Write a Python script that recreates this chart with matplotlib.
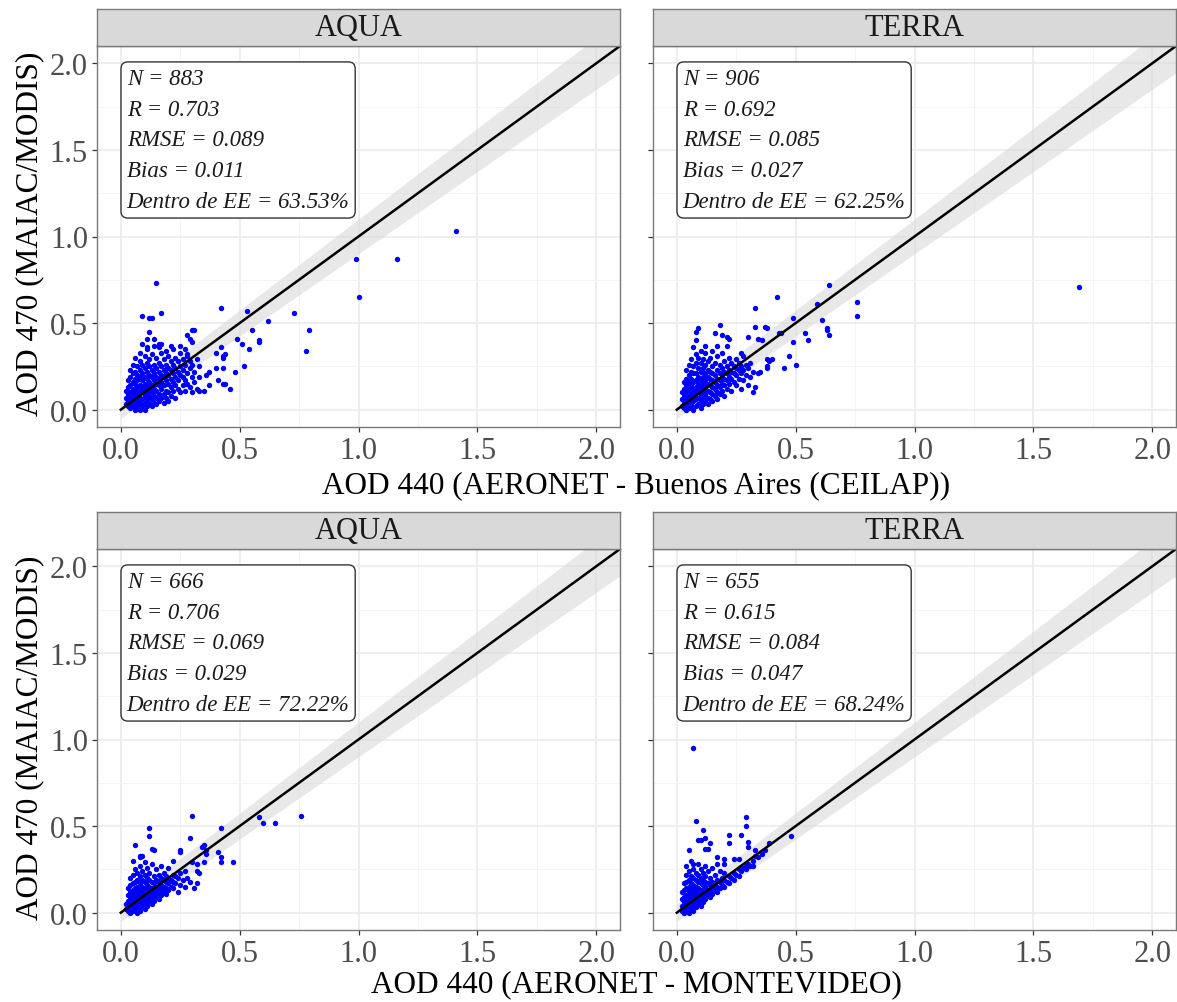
import matplotlib
matplotlib.use("Agg")
import matplotlib.pyplot as plt
import numpy as np

plt.rcParams['font.family'] = ['Liberation Serif', 'DejaVu Serif']

# ---- data ----
sat_names = ["AQUA", "TERRA", "AQUA", "TERRA"]
x_titles = ["AOD 440 (AERONET - Buenos Aires (CEILAP))", "AOD 440 (AERONET - MONTEVIDEO)"]
y_title = "AOD 470 (MAIAC/MODIS)"

n_obs = [883, 906, 666, 655]
r_vals = ["0.703", "0.692", "0.706", "0.615"]
rmse_vals = ["0.089", "0.085", "0.069", "0.084"]
bias_vals = ["0.011", "0.027", "0.029", "0.047"]
ee_vals = ["63.53%", "62.25%", "72.22%", "68.24%"]

ticks = [0.0, 0.5, 1.0, 1.5, 2.0]
minor_ticks = [0.25, 0.75, 1.25, 1.75]
one_to_one = [0.0, 2.1]

aqua_ba = [
    (0.02,0.03),(0.02,0.07),(0.02,0.11),(0.03,0.02),(0.03,0.05),(0.03,0.09),(0.03,0.13),(0.03,0.17),
    (0.04,0.01),(0.04,0.04),(0.04,0.07),(0.04,0.10),(0.04,0.14),(0.04,0.19),(0.04,0.23),
    (0.05,0.02),(0.05,0.06),(0.05,0.09),(0.05,0.12),(0.05,0.16),(0.05,0.21),(0.05,0.26),
    (0.06,0.00),(0.06,0.04),(0.06,0.08),(0.06,0.11),(0.06,0.15),(0.06,0.18),(0.06,0.22),(0.06,0.30),
    (0.07,0.02),(0.07,0.05),(0.07,0.09),(0.07,0.13),(0.07,0.17),(0.07,0.20),(0.07,0.25),
    (0.08,0.00),(0.08,0.04),(0.08,0.07),(0.08,0.11),(0.08,0.14),(0.08,0.19),(0.08,0.23),(0.08,0.28),(0.08,0.33),
    (0.09,0.02),(0.09,0.06),(0.09,0.10),(0.09,0.13),(0.09,0.17),(0.09,0.21),(0.09,0.26),
    (0.10,0.00),(0.10,0.04),(0.10,0.08),(0.10,0.12),(0.10,0.15),(0.10,0.19),(0.10,0.24),(0.10,0.31),
    (0.11,0.02),(0.11,0.06),(0.11,0.10),(0.11,0.14),(0.11,0.18),(0.11,0.22),(0.11,0.27),(0.11,0.35),
    (0.12,0.04),(0.12,0.08),(0.12,0.12),(0.12,0.16),(0.12,0.20),(0.12,0.25),(0.12,0.29),
    (0.13,0.02),(0.13,0.06),(0.13,0.10),(0.13,0.14),(0.13,0.19),(0.13,0.23),(0.13,0.32),
    (0.14,0.04),(0.14,0.08),(0.14,0.12),(0.14,0.17),(0.14,0.21),(0.14,0.26),(0.14,0.37),
    (0.15,0.03),(0.15,0.07),(0.15,0.11),(0.15,0.15),(0.15,0.19),(0.15,0.24),(0.15,0.30),
    (0.16,0.05),(0.16,0.09),(0.16,0.14),(0.16,0.18),(0.16,0.22),(0.16,0.27),(0.16,0.36),
    (0.17,0.07),(0.17,0.12),(0.17,0.16),(0.17,0.20),(0.17,0.25),(0.17,0.33),
    (0.18,0.04),(0.18,0.09),(0.18,0.14),(0.18,0.19),(0.18,0.23),(0.18,0.29),
    (0.19,0.07),(0.19,0.11),(0.19,0.17),(0.19,0.21),(0.19,0.26),(0.19,0.34),
    (0.20,0.05),(0.20,0.10),(0.20,0.15),(0.20,0.20),(0.20,0.24),(0.20,0.31),
    (0.21,0.08),(0.21,0.13),(0.21,0.18),(0.21,0.23),(0.21,0.28),
    (0.22,0.11),(0.22,0.16),(0.22,0.21),(0.22,0.26),(0.22,0.35),
    (0.23,0.07),(0.23,0.14),(0.23,0.19),(0.23,0.24),(0.23,0.30),
    (0.24,0.12),(0.24,0.17),(0.24,0.22),(0.24,0.28),
    (0.25,0.10),(0.25,0.20),(0.25,0.25),(0.25,0.33),
    (0.26,0.14),(0.26,0.19),(0.26,0.23),(0.26,0.29),
    (0.27,0.11),(0.27,0.17),(0.27,0.26),(0.27,0.35),
    (0.28,0.15),(0.28,0.21),(0.28,0.31),(0.29,0.13),(0.29,0.24),(0.29,0.28),
    (0.30,0.10),(0.30,0.19),(0.30,0.26),(0.31,0.16),(0.31,0.22),(0.32,0.12),(0.32,0.29),
    (0.33,0.19),(0.33,0.25),
    (1.41,1.03),(0.99,0.87),(1.16,0.87),(1.00,0.65),(0.15,0.73),(0.42,0.59),(0.53,0.57),
    (0.73,0.56),(0.79,0.46),(0.78,0.34),(0.62,0.51),(0.55,0.46),(0.58,0.40),(0.58,0.39),
    (0.49,0.41),(0.51,0.38),(0.54,0.35),(0.52,0.25),(0.48,0.22),(0.46,0.12),(0.44,0.15),
    (0.43,0.15),(0.43,0.31),(0.43,0.30),(0.42,0.36),(0.44,0.32),(0.40,0.33),(0.41,0.17),
    (0.43,0.24),(0.40,0.24),(0.37,0.14),(0.35,0.11),(0.33,0.11),(0.36,0.20),(0.37,0.22),
    (0.09,0.54),(0.12,0.53),(0.13,0.53),(0.17,0.56),(0.12,0.45),(0.14,0.41),(0.11,0.41),
    (0.09,0.38),(0.11,0.36),(0.16,0.38),(0.17,0.38),(0.21,0.37),(0.25,0.37),(0.30,0.46),
    (0.31,0.46),(0.28,0.43),(0.29,0.41),(0.30,0.39),(0.28,0.32),
]

terra_ba = [
    (0.02,0.02),(0.02,0.06),(0.02,0.10),(0.03,0.01),(0.03,0.04),(0.03,0.08),(0.03,0.12),(0.03,0.16),
    (0.04,0.00),(0.04,0.03),(0.04,0.06),(0.04,0.10),(0.04,0.14),(0.04,0.18),(0.04,0.23),
    (0.05,0.01),(0.05,0.05),(0.05,0.08),(0.05,0.12),(0.05,0.16),(0.05,0.20),(0.05,0.26),
    (0.06,0.02),(0.06,0.04),(0.06,0.07),(0.06,0.10),(0.06,0.14),(0.06,0.18),(0.06,0.22),(0.06,0.29),
    (0.07,0.00),(0.07,0.05),(0.07,0.09),(0.07,0.12),(0.07,0.16),(0.07,0.21),(0.07,0.25),
    (0.08,0.02),(0.08,0.06),(0.08,0.10),(0.08,0.13),(0.08,0.17),(0.08,0.21),(0.08,0.27),(0.08,0.32),
    (0.09,0.03),(0.09,0.07),(0.09,0.11),(0.09,0.15),(0.09,0.19),(0.09,0.24),(0.09,0.30),
    (0.10,0.01),(0.10,0.05),(0.10,0.09),(0.10,0.13),(0.10,0.17),(0.10,0.22),(0.10,0.27),(0.10,0.34),
    (0.11,0.03),(0.11,0.07),(0.11,0.11),(0.11,0.15),(0.11,0.19),(0.11,0.24),(0.11,0.29),
    (0.12,0.05),(0.12,0.09),(0.12,0.13),(0.12,0.17),(0.12,0.21),(0.12,0.26),(0.12,0.33),
    (0.13,0.03),(0.13,0.07),(0.13,0.11),(0.13,0.15),(0.13,0.19),(0.13,0.23),(0.13,0.28),
    (0.14,0.06),(0.14,0.10),(0.14,0.14),(0.14,0.18),(0.14,0.22),(0.14,0.30),
    (0.15,0.05),(0.15,0.09),(0.15,0.13),(0.15,0.17),(0.15,0.21),(0.15,0.25),(0.15,0.34),
    (0.16,0.08),(0.16,0.12),(0.16,0.16),(0.16,0.20),(0.16,0.27),
    (0.17,0.06),(0.17,0.10),(0.17,0.14),(0.17,0.18),(0.17,0.23),(0.17,0.31),
    (0.18,0.09),(0.18,0.13),(0.18,0.17),(0.18,0.21),(0.18,0.26),
    (0.19,0.11),(0.19,0.15),(0.19,0.19),(0.19,0.24),(0.19,0.33),
    (0.20,0.08),(0.20,0.14),(0.20,0.18),(0.20,0.22),(0.20,0.28),
    (0.21,0.12),(0.21,0.17),(0.21,0.21),(0.21,0.25),
    (0.22,0.15),(0.22,0.19),(0.22,0.23),(0.22,0.30),
    (0.23,0.11),(0.23,0.18),(0.23,0.22),(0.23,0.27),
    (0.24,0.16),(0.24,0.21),(0.24,0.25),
    (0.25,0.14),(0.25,0.20),(0.25,0.24),(0.25,0.29),
    (0.26,0.18),(0.26,0.23),(0.26,0.27),(0.27,0.12),(0.27,0.21),(0.27,0.25),(0.28,0.17),
    (0.28,0.23),(0.29,0.20),(0.29,0.26),(0.30,0.24),(0.31,0.19),(0.31,0.27),(0.32,0.22),
    (1.69,0.71),(0.64,0.72),(0.42,0.65),(0.33,0.59),(0.59,0.61),(0.76,0.62),(0.76,0.54),
    (0.61,0.52),(0.49,0.53),(0.63,0.47),(0.63,0.46),(0.64,0.43),(0.54,0.44),(0.55,0.40),
    (0.49,0.39),(0.44,0.44),(0.43,0.44),(0.38,0.47),(0.37,0.48),(0.33,0.48),(0.34,0.41),
    (0.36,0.40),(0.47,0.31),(0.50,0.26),(0.45,0.24),(0.40,0.29),(0.39,0.28),(0.38,0.29),
    (0.38,0.25),(0.38,0.24),(0.34,0.21),(0.35,0.22),(0.33,0.13),(0.32,0.10),(0.30,0.14),
    (0.18,0.49),(0.09,0.47),(0.08,0.45),(0.16,0.44),(0.19,0.43),(0.08,0.40),(0.21,0.42),
    (0.22,0.41),(0.21,0.37),(0.07,0.36),(0.17,0.37),(0.12,0.37),(0.30,0.42),(0.27,0.33),
    (0.28,0.31),
]

aqua_mvd = [
    (0.02,0.02),(0.02,0.05),(0.03,0.01),(0.03,0.04),(0.03,0.07),(0.03,0.10),(0.03,0.14),
    (0.04,0.00),(0.04,0.03),(0.04,0.06),(0.04,0.09),(0.04,0.12),(0.04,0.16),(0.04,0.20),
    (0.05,0.01),(0.05,0.04),(0.05,0.07),(0.05,0.10),(0.05,0.13),(0.05,0.17),(0.05,0.22),
    (0.06,0.02),(0.06,0.05),(0.06,0.08),(0.06,0.11),(0.06,0.14),(0.06,0.18),
    (0.07,0.00),(0.07,0.03),(0.07,0.06),(0.07,0.09),(0.07,0.12),(0.07,0.15),(0.07,0.19),(0.07,0.23),
    (0.08,0.01),(0.08,0.04),(0.08,0.07),(0.08,0.10),(0.08,0.13),(0.08,0.17),(0.08,0.21),(0.08,0.27),
    (0.09,0.03),(0.09,0.06),(0.09,0.09),(0.09,0.12),(0.09,0.15),(0.09,0.19),(0.09,0.24),
    (0.10,0.02),(0.10,0.05),(0.10,0.08),(0.10,0.11),(0.10,0.14),(0.10,0.18),(0.10,0.22),(0.10,0.29),
    (0.11,0.04),(0.11,0.07),(0.11,0.10),(0.11,0.13),(0.11,0.16),(0.11,0.20),(0.11,0.26),
    (0.12,0.06),(0.12,0.09),(0.12,0.12),(0.12,0.15),(0.12,0.19),(0.12,0.23),
    (0.13,0.05),(0.13,0.08),(0.13,0.11),(0.13,0.14),(0.13,0.18),(0.13,0.28),
    (0.14,0.07),(0.14,0.10),(0.14,0.13),(0.14,0.17),(0.14,0.21),
    (0.15,0.09),(0.15,0.12),(0.15,0.15),(0.15,0.19),(0.15,0.25),
    (0.16,0.08),(0.16,0.11),(0.16,0.14),(0.16,0.18),(0.16,0.22),
    (0.17,0.10),(0.17,0.13),(0.17,0.16),(0.17,0.20),(0.17,0.27),
    (0.18,0.12),(0.18,0.15),(0.18,0.19),(0.18,0.23),
    (0.19,0.11),(0.19,0.14),(0.19,0.18),(0.19,0.21),
    (0.20,0.13),(0.20,0.17),(0.20,0.20),(0.20,0.26),
    (0.21,0.15),(0.21,0.19),(0.22,0.14),(0.22,0.18),(0.22,0.22),(0.23,0.17),(0.23,0.21),
    (0.24,0.12),(0.24,0.20),(0.25,0.16),(0.25,0.23),(0.26,0.19),(0.27,0.15),(0.27,0.24),
    (0.28,0.20),(0.29,0.18),
    (0.76,0.56),(0.58,0.55),(0.60,0.52),(0.65,0.52),(0.30,0.56),(0.42,0.49),(0.12,0.49),
    (0.12,0.44),(0.06,0.39),(0.29,0.43),(0.34,0.38),(0.35,0.39),(0.36,0.36),(0.36,0.34),
    (0.41,0.35),(0.13,0.37),(0.14,0.36),(0.25,0.36),(0.25,0.35),(0.42,0.32),(0.42,0.29),
    (0.47,0.29),(0.35,0.29),(0.32,0.28),(0.30,0.29),(0.32,0.24),(0.33,0.23),(0.31,0.14),
    (0.32,0.17),(0.22,0.30),(0.05,0.30),(0.06,0.25),(0.08,0.33),(0.09,0.33),(0.08,0.32),
]

terra_mvd = [
    (0.02,0.01),(0.02,0.04),(0.02,0.08),(0.02,0.12),(0.03,0.00),(0.03,0.03),(0.03,0.06),
    (0.03,0.09),(0.03,0.13),(0.03,0.17),
    (0.04,0.01),(0.04,0.04),(0.04,0.07),(0.04,0.10),(0.04,0.14),(0.04,0.18),(0.04,0.22),
    (0.05,0.00),(0.05,0.03),(0.05,0.06),(0.05,0.09),(0.05,0.12),(0.05,0.15),(0.05,0.19),(0.05,0.24),
    (0.06,0.02),(0.06,0.05),(0.06,0.08),(0.06,0.11),(0.06,0.14),(0.06,0.17),(0.06,0.21),
    (0.07,0.01),(0.07,0.04),(0.07,0.07),(0.07,0.10),(0.07,0.13),(0.07,0.16),(0.07,0.20),(0.07,0.25),
    (0.08,0.03),(0.08,0.06),(0.08,0.09),(0.08,0.12),(0.08,0.15),(0.08,0.19),(0.08,0.23),
    (0.09,0.05),(0.09,0.08),(0.09,0.11),(0.09,0.14),(0.09,0.18),(0.09,0.22),(0.09,0.28),
    (0.10,0.04),(0.10,0.07),(0.10,0.10),(0.10,0.13),(0.10,0.17),(0.10,0.20),(0.10,0.25),
    (0.11,0.06),(0.11,0.09),(0.11,0.12),(0.11,0.16),(0.11,0.19),(0.11,0.23),
    (0.12,0.08),(0.12,0.11),(0.12,0.15),(0.12,0.18),(0.12,0.21),(0.12,0.27),
    (0.13,0.10),(0.13,0.13),(0.13,0.17),(0.13,0.24),
    (0.14,0.09),(0.14,0.12),(0.14,0.16),(0.14,0.20),
    (0.15,0.11),(0.15,0.14),(0.15,0.18),(0.15,0.26),
    (0.16,0.13),(0.16,0.17),(0.16,0.22),(0.17,0.12),(0.17,0.15),(0.17,0.19),
    (0.18,0.14),(0.18,0.18),(0.18,0.24),(0.19,0.16),(0.19,0.20),
    (0.20,0.15),(0.20,0.19),(0.20,0.23),(0.21,0.18),(0.22,0.17),(0.22,0.21),(0.23,0.20),
    (0.24,0.19),(0.24,0.23),(0.25,0.22),(0.26,0.21),(0.26,0.25),(0.27,0.24),(0.28,0.26),
    (0.29,0.25),(0.30,0.28),(0.31,0.27),(0.32,0.30),(0.34,0.32),(0.36,0.34),
    (0.07,0.95),(0.08,0.53),(0.29,0.55),(0.29,0.50),(0.48,0.44),(0.11,0.48),(0.12,0.43),
    (0.22,0.45),(0.27,0.45),(0.09,0.42),(0.10,0.42),(0.14,0.40),(0.13,0.37),(0.12,0.37),
    (0.22,0.40),(0.30,0.41),(0.30,0.38),(0.05,0.36),(0.33,0.36),(0.37,0.36),(0.39,0.40),
    (0.17,0.32),(0.20,0.31),(0.24,0.31),(0.04,0.27),(0.06,0.30),(0.07,0.28),(0.17,0.28),
    (0.20,0.28),(0.26,0.31),(0.29,0.27),(0.32,0.27),(0.33,0.33),
]

panel_points = [aqua_ba, terra_ba, aqua_mvd, terra_mvd]

# ---- layout (pixel boxes of the reference) ----
W, H = 1177, 1003
fig = plt.figure(figsize=(W / 100, H / 100), dpi=100)


def box(left, top, right, bottom):
    return [left / W, 1 - bottom / H, (right - left) / W, (bottom - top) / H]


lefts = [97, 653]
rows = [(10, 47, 428), (513, 550, 931)]

for i in range(4):
    r, c = divmod(i, 2)
    strip_top, ax_top, ax_bot = rows[r]
    left = lefts[c]
    right = left + 523

    ax = fig.add_axes(box(left, ax_top, right, ax_bot))
    ax.set_xlim(-0.1, 2.1)
    ax.set_ylim(-0.1, 2.1)
    ax.set_xticks(ticks)
    ax.set_yticks(ticks)
    ax.set_xticks(minor_ticks, minor=True)
    ax.set_yticks(minor_ticks, minor=True)
    ax.set_xticklabels([f"{t:.1f}" for t in ticks])
    if c == 0:
        ax.set_yticklabels([f"{t:.1f}" for t in ticks])
    else:
        ax.set_yticklabels([])
    ax.grid(which="major", color="#ebebeb", lw=1.2, zorder=0)
    ax.grid(which="minor", color="#f4f4f4", lw=0.7, zorder=0)
    ax.set_axisbelow(True)
    ax.tick_params(which="major", length=3.5, width=0.9, color="#333333",
                   labelsize=22, labelcolor="#4d4d4d", pad=3)
    ax.tick_params(which="minor", length=0)
    for s in ax.spines.values():
        s.set_color("#7a7a7a")
        s.set_linewidth(1.0)

    # expected error envelope
    xe = np.linspace(0, 2.1, 50)
    ax.fill_between(xe, xe - (0.05 + 0.05 * xe), xe + (0.05 + 0.05 * xe),
                    color="#d9d9d9", alpha=0.6, lw=0, zorder=1)

    pts = np.array(panel_points[i])
    ax.scatter(pts[:, 0], pts[:, 1], s=15, color="#0000ff", linewidths=0, zorder=2)
    ax.plot(one_to_one, one_to_one, color="black", lw=1.8, zorder=3)

    stats = (f"N = {n_obs[i]}\nR = {r_vals[i]}\nRMSE = {rmse_vals[i]}\n"
             f"Bias = {bias_vals[i]}\nDentro de EE = {ee_vals[i]}")
    ax.text(0.025, 1.975, stats, ha="left", va="top", fontsize=16.5,
            fontstyle="italic", color="#1a1a1a", linespacing=1.62, zorder=4,
            bbox=dict(boxstyle="round,pad=0.25,rounding_size=0.3", fc="white",
                      ec="#333333", lw=1.0))

    # facet strip
    sax = fig.add_axes(box(left, strip_top, right, ax_top))
    sax.set_facecolor("#d9d9d9")
    sax.set_xticks([])
    sax.set_yticks([])
    for s in sax.spines.values():
        s.set_color("#7a7a7a")
        s.set_linewidth(1.0)
    sax.text(0.5, 0.5, sat_names[i], ha="center", va="center", fontsize=22,
             color="#1a1a1a", transform=sax.transAxes)

# axis titles
fig.text(636 / W, 1 - 486 / H, x_titles[0], ha="center", va="center", fontsize=22.5)
fig.text(636 / W, 1 - 985 / H, x_titles[1], ha="center", va="center", fontsize=22.5)
fig.text(30 / W, 1 - 234 / H, y_title, ha="center", va="center", rotation=90, fontsize=22.5)
fig.text(30 / W, 1 - 738 / H, y_title, ha="center", va="center", rotation=90, fontsize=22.5)

fig.savefig("out.png", dpi=100)
